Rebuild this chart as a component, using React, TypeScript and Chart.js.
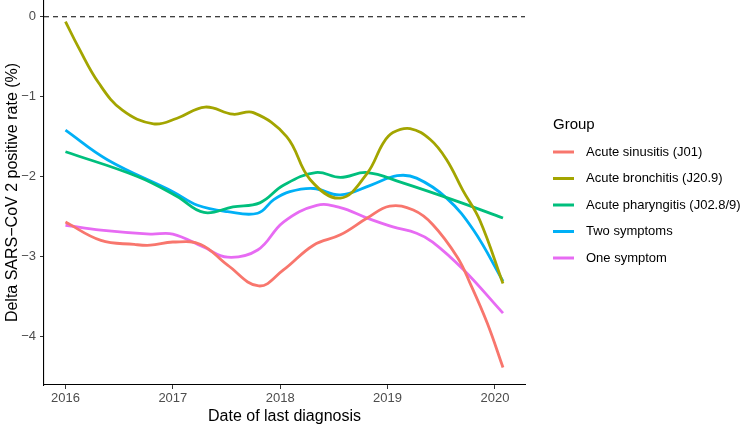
import React, { useEffect, useRef } from "react";
import { Chart, registerables } from "chart.js";

Chart.register(...registerables);

const groups = [
  "Acute sinusitis (J01)",
  "Acute bronchitis (J20.9)",
  "Acute pharyngitis (J02.8/9)",
  "Two symptoms",
  "One symptom",
];
const colors = ["#F8766D", "#A3A500", "#00BF7D", "#00B0F6", "#E76BF3"];

const sinusitisX = [2016.0, 2016.33, 2016.64, 2016.79, 2017.0, 2017.26, 2017.51, 2017.8, 2018.03, 2018.31, 2018.56, 2018.81, 2019.02, 2019.24, 2019.42, 2019.65, 2019.77, 2019.93, 2020.075];
const sinusitisY = [-2.57, -2.8, -2.85, -2.86, -2.82, -2.85, -3.11, -3.37, -3.17, -2.86, -2.73, -2.52, -2.37, -2.42, -2.6, -3.01, -3.34, -3.84, -4.39];

const bronchitisX = [2016.0, 2016.12, 2016.31, 2016.53, 2016.82, 2017.04, 2017.3, 2017.56, 2017.75, 2018.06, 2018.28, 2018.56, 2018.81, 2018.96, 2019.05, 2019.21, 2019.4, 2019.55, 2019.7, 2019.86, 2020.075];
const bronchitisY = [-0.06, -0.38, -0.83, -1.17, -1.34, -1.27, -1.13, -1.22, -1.2, -1.5, -2.04, -2.27, -1.96, -1.58, -1.45, -1.4, -1.54, -1.79, -2.17, -2.55, -3.34];

const pharyngitisX = [2016.0, 2016.67, 2017.04, 2017.29, 2017.56, 2017.81, 2018.03, 2018.33, 2018.56, 2018.81, 2019.12, 2019.67, 2020.075];
const pharyngitisY = [-1.69, -2.0, -2.25, -2.45, -2.38, -2.33, -2.11, -1.95, -2.01, -1.95, -2.07, -2.32, -2.52];

const twoX = [2016.0, 2016.39, 2017.0, 2017.23, 2017.51, 2017.79, 2017.94, 2018.09, 2018.31, 2018.56, 2018.84, 2019.09, 2019.27, 2019.55, 2019.8, 2020.075];
const twoY = [-1.42, -1.79, -2.19, -2.36, -2.44, -2.46, -2.29, -2.19, -2.15, -2.23, -2.11, -1.99, -2.02, -2.27, -2.67, -3.31];

const oneX = [2016.0, 2016.33, 2016.79, 2017.0, 2017.28, 2017.51, 2017.79, 2018.03, 2018.34, 2018.56, 2018.81, 2019.05, 2019.27, 2019.42, 2019.71, 2020.075];
const oneY = [-2.61, -2.67, -2.72, -2.72, -2.88, -3.01, -2.92, -2.57, -2.36, -2.39, -2.52, -2.63, -2.71, -2.82, -3.17, -3.71];

const xTicks = [2016, 2017, 2018, 2019, 2020];
const yTicks = [-4, -3, -2, -1, 0];

const seriesX = [sinusitisX, bronchitisX, pharyngitisX, twoX, oneX];
const seriesY = [sinusitisY, bronchitisY, pharyngitisY, twoY, oneY];

const FONT = "'Liberation Sans', Arial, Helvetica, sans-serif";

const zeroLinePlugin = {
  id: "zeroLine",
  beforeDatasetsDraw(chart: any) {
    const { ctx, chartArea, scales } = chart;
    const y = scales.y.getPixelForValue(0);
    ctx.save();
    ctx.strokeStyle = "#000";
    ctx.lineWidth = 1.2;
    ctx.setLineDash([5, 4]);
    ctx.beginPath();
    ctx.moveTo(chartArea.left, y);
    ctx.lineTo(chartArea.right, y);
    ctx.stroke();
    ctx.restore();
  },
};

const legendPlugin = {
  id: "ggLegend",
  afterDraw(chart: any) {
    const { ctx } = chart;
    ctx.save();
    ctx.textBaseline = "middle";
    ctx.textAlign = "left";
    ctx.fillStyle = "#000";
    ctx.font = `15px ${FONT}`;
    ctx.fillText("Group", 553, 125);
    ctx.font = `13px ${FONT}`;
    groups.forEach((g, i) => {
      const y = 152 + i * 26.5;
      ctx.strokeStyle = colors[i];
      ctx.lineWidth = 3;
      ctx.setLineDash([]);
      ctx.beginPath();
      ctx.moveTo(553, y);
      ctx.lineTo(574, y);
      ctx.stroke();
      ctx.fillStyle = "#000";
      ctx.fillText(g, 586, y);
    });
    ctx.restore();
  },
};

export default function App() {
  const ref = useRef<HTMLCanvasElement>(null);
  useEffect(() => {
    document.body.style.margin = "0";
    const canvas = ref.current!;
    const chart = new Chart(canvas, {
      type: "line",
      data: {
        datasets: groups.map((g, i) => ({
          label: g,
          data: seriesX[i].map((x, j) => ({ x, y: seriesY[i][j] })),
          borderColor: colors[i],
          backgroundColor: colors[i],
          borderWidth: 2.8,
          pointRadius: 0,
          tension: 0.4,
          fill: false,
        })),
      },
      options: {
        animation: false,
        responsive: false,
        devicePixelRatio: 1,
        layout: { padding: { left: 0, right: 225, top: 0, bottom: 0 } },
        plugins: { legend: { display: false }, tooltip: { enabled: false } },
        scales: {
          x: {
            type: "linear",
            min: 2015.8,
            max: 2020.28,
            afterBuildTicks: (s: any) => {
              s.ticks = xTicks.map((v) => ({ value: v }));
            },
            afterFit: (s: any) => {
              s.height = 42;
              s.paddingLeft = 0;
              s.paddingRight = 0;
            },
            grid: { drawOnChartArea: false, drawTicks: true, tickLength: 4, color: "#333", lineWidth: 1 },
            border: { display: true, color: "#000", width: 1.1 },
            ticks: {
              color: "#4d4d4d",
              font: { family: FONT, size: 13 },
              padding: 2,
              maxRotation: 0,
              callback: (v: any) => String(v),
            },
            title: {
              display: true,
              text: "Date of last diagnosis",
              color: "#000",
              font: { family: FONT, size: 16 },
              padding: { top: 0, bottom: 1 },
            },
          },
          y: {
            type: "linear",
            min: -4.61,
            max: 0.21,
            afterBuildTicks: (s: any) => {
              s.ticks = yTicks.map((v) => ({ value: v }));
            },
            afterFit: (s: any) => {
              s.width = 44;
              s.paddingTop = 0;
              s.paddingBottom = 0;
            },
            grid: { drawOnChartArea: false, drawTicks: true, tickLength: 4, color: "#333", lineWidth: 1 },
            border: { display: true, color: "#000", width: 1.1 },
            ticks: {
              color: "#4d4d4d",
              font: { family: FONT, size: 13 },
              padding: 4,
              callback: (v: any) => (v === 0 ? "0" : String(v).replace("-", "\u2212")),
            },
            title: {
              display: true,
              text: "Delta SARS\u2212CoV 2 positive rate (%)",
              color: "#000",
              font: { family: FONT, size: 16 },
              padding: { top: 3, bottom: 0 },
            },
          },
        },
      },
      plugins: [zeroLinePlugin, legendPlugin],
    });
    return () => chart.destroy();
  }, []);
  return (
    <div style={{ width: 750, height: 427 }}>
      <canvas ref={ref} width={750} height={427} style={{ display: "block" }} />
    </div>
  );
}
